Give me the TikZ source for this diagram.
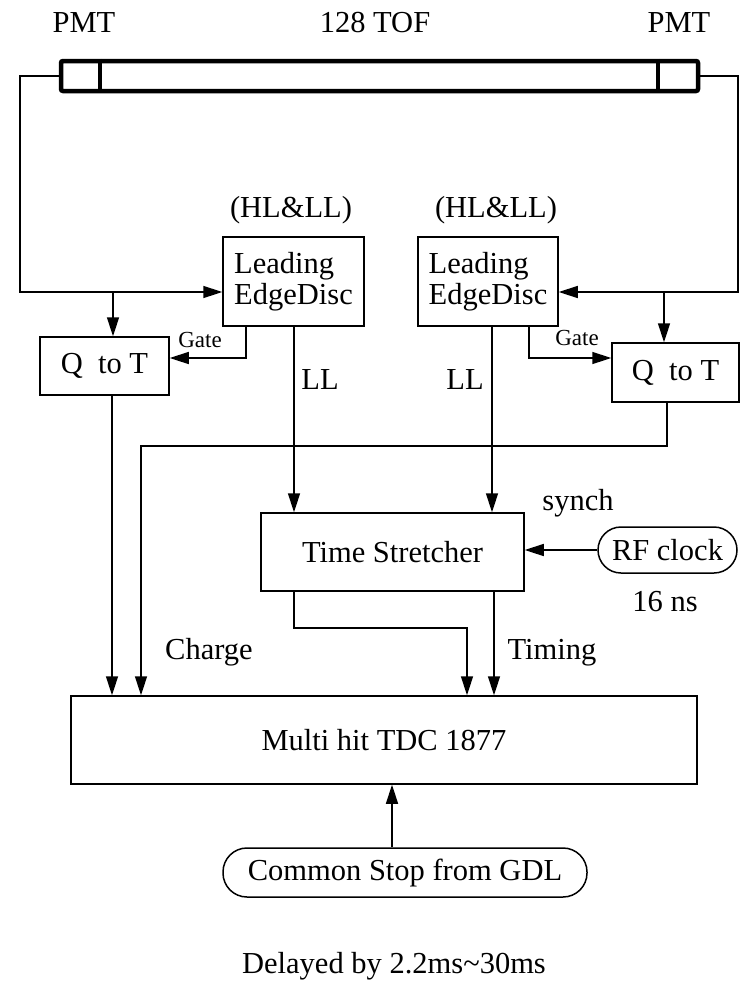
\documentclass[tikz,border=0pt]{standalone}
\usepackage{fontspec}
\setmainfont{Liberation Serif}
\usetikzlibrary{arrows.meta}
\begin{document}
\begin{tikzpicture}[x=1pt,y=-1pt,line width=1.5pt,
  box/.style={draw,inner sep=0pt,font=\fontsize{30.5}{31}\selectfont},
  lbl/.style={inner sep=0pt,font=\fontsize{30.5}{31}\selectfont},
  small/.style={inner sep=0pt,font=\fontsize{23}{24}\selectfont},
  arr/.style={-{Triangle[length=19pt,width=12pt]}}]
\useasboundingbox (0,0) rectangle (740,993);
% top labels
\node[lbl] (pmtl) at (84,23) {PMT};
\node[lbl] (tof) at (375,23) {128 TOF};
\node[lbl] (pmtr) at (679,23) {PMT};
% bar
\node[draw,line width=4.5pt,rounded corners=2pt,minimum width=637,minimum height=30,inner sep=0pt] (bar) at (379.5,76) {};
\draw[line width=4.5pt] (bar.north -| 100,0) -- (bar.south -| 100,0);
\draw[line width=4.5pt] (bar.north -| 658,0) -- (bar.south -| 658,0);
% boxes
\node[box,minimum width=141,minimum height=89,align=left] (ledl) at (293.5,281.5) {Leading\\EdgeDisc};
\node[box,minimum width=140,minimum height=89,align=left] (ledr) at (488,281.5) {Leading\\EdgeDisc};
\node[box,minimum width=129,minimum height=58] (qtl) at (104.5,366) {Q~~to T};
\node[box,minimum width=127,minimum height=59] (qtr) at (675.5,372.5) {Q~~to T};
\node[box,minimum width=263,minimum height=78] (ts) at (392.5,552) {Time Stretcher};
\node[box,minimum width=139,minimum height=46,rounded corners=23pt] (rf) at (667.5,550) {RF clock};
\node[box,minimum width=626,minimum height=88] (tdc) at (384,740) {Multi hit TDC 1877};
\node[box,minimum width=364,minimum height=49,rounded corners=24pt] (cs) at (405,872.5) {Common Stop from GDL};
% labels
\node[lbl] (hl1) at (291,210) {(HL\&LL)};
\node[lbl] (hl2) at (496,210) {(HL\&LL)};
\node[small] (gate1) at (200,340) {Gate};
\node[small] (gate2) at (577,338) {Gate};
\node[lbl] (ll1) at (320,380) {LL};
\node[lbl] (ll2) at (465,380) {LL};
\node[lbl] (charge) at (209,652) {Charge};
\node[lbl] (timing) at (552,653) {Timing};
\node[lbl] (synch) at (578,503) {synch};
\node[lbl] (ns) at (665,602) {16 ns};
\node[lbl] (delay) at (394,966) {Delayed by 2.2ms\char`~30ms};
% coordinates
\coordinate (wl) at (20,292);
\coordinate (wr) at (738,292);
\coordinate (jl) at (113,292);
\coordinate (jr) at (664,292);
\coordinate (g1) at (246,358);
\coordinate (g2) at (529,358);
\coordinate (xl) at (294,0);
\coordinate (xr) at (492,0);
\coordinate (ql) at (112,0);
\coordinate (cr) at (667,446);
\coordinate (cl) at (141,446);
\coordinate (tl) at (294,628);
\coordinate (tm) at (467,628);
\coordinate (tr) at (494,0);
\coordinate (cx) at (392,0);
% wires from PMTs
\draw[arr] (bar.west) -| (wl) -- (wl -| ledl.west);
\draw[arr] (bar.east) -| (wr) -- (wr -| ledr.east);
\draw[arr] (jl) -- (jl |- qtl.north);
\draw[arr] (jr) -- (jr |- qtr.north);
% gates
\draw[arr] (g1 |- ledl.south) -- (g1) -- (g1 -| qtl.east);
\draw[arr] (g2 |- ledr.south) -- (g2) -- (g2 -| qtr.west);
% LL
\draw[arr] (xl |- ledl.south) -- (xl |- ts.north);
\draw[arr] (xr |- ledr.south) -- (xr |- ts.north);
% charge
\draw[arr] (ql |- qtl.south) -- (ql |- tdc.north);
\draw[arr] (cr |- qtr.south) -- (cr) -- (cl) -- (cl |- tdc.north);
% timing
\draw[arr] (tl |- ts.south) -- (tl) -- (tm) -- (tm |- tdc.north);
\draw[arr] (tr |- ts.south) -- (tr |- tdc.north);
% clock and stop
\draw[arr] (rf.west) -- (rf.west -| ts.east);
\draw[arr] (cx |- cs.north) -- (cx |- tdc.south);
\end{tikzpicture}
\end{document}
